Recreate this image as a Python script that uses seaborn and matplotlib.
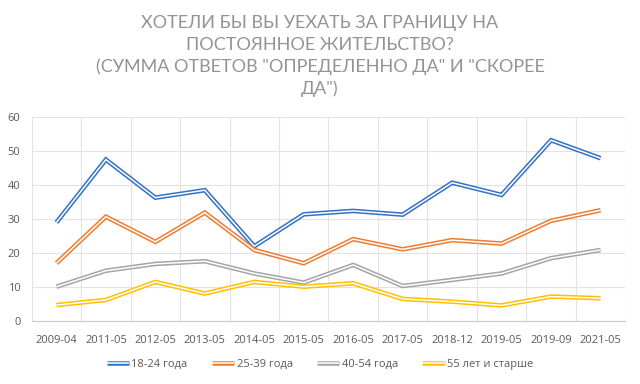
import pandas as pd
import matplotlib
matplotlib.use("Agg")
import matplotlib.pyplot as plt
import matplotlib.patheffects as pe
import seaborn as sns

# data
dates = ["2009-04", "2011-05", "2012-05", "2013-05", "2014-05", "2015-05",
         "2016-05", "2017-05", "2018-12", "2019-05", "2019-09", "2021-05"]
age_18_24 = [29, 47.5, 36.3, 38.5, 22, 31.4, 32.4, 31.3, 40.7, 37.1, 53.2, 47.9]
age_25_39 = [17, 30.7, 23.3, 31.9, 20.9, 17, 24.1, 21.1, 23.8, 22.8, 29.5, 32.6]
age_40_54 = [10.1, 14.8, 16.8, 17.6, 14, 11.3, 16.5, 10.3, 12.1, 14, 18.5, 20.9]
age_55_up = [4.7, 6.2, 11.5, 8.1, 11.5, 10.1, 11.1, 6.5, 5.7, 4.6, 7.2, 6.7]

groups = ["18-24 года", "25-39 года", "40-54 года", "55 лет и старше"]
colors = ["#3372C6", "#ED7D31", "#A5A5A5", "#FFC000"]

title = ('ХОТЕЛИ БЫ ВЫ УЕХАТЬ ЗА ГРАНИЦУ НА\nПОСТОЯННОЕ ЖИТЕЛЬСТВО?\n'
         '(СУММА ОТВЕТОВ "ОПРЕДЕЛЕННО ДА" И "СКОРЕЕ\nДА")')

rows = []
for g, vals in zip(groups, [age_18_24, age_25_39, age_40_54, age_55_up]):
    for d, v in zip(dates, vals):
        rows.append({"date": d, "group": g, "value": v})
df = pd.DataFrame(rows)

sns.set_style("white")
plt.rcParams["font.family"] = ["Open Sans", "DejaVu Sans"]

fig = plt.figure(figsize=(6.4, 3.84), dpi=100)
ax = fig.add_axes([0.0495, 0.164, 0.9275, 0.531])

sns.lineplot(data=df, x="date", y="value", hue="group", hue_order=groups,
             palette=colors, sort=False, linewidth=3.3, legend=False, ax=ax)

# excel-like double lines: coloured stroke with a white core
for line in ax.get_lines():
    line.set_path_effects([pe.Stroke(linewidth=3.3, foreground=line.get_color()),
                           pe.Stroke(linewidth=1.1, foreground="white")])
    line.set_solid_joinstyle("miter")
    line.set_solid_capstyle("butt")

ax.set_xlim(-0.5, len(dates) - 0.5)
ax.set_ylim(0, 60)
ax.set_yticks(range(0, 61, 10))
ax.set_xticks(range(len(dates)))
ax.set_xticklabels(dates)
ax.set_xticks([i - 0.5 for i in range(len(dates) + 1)], minor=True)
ax.grid(True, which="minor", axis="x", color="#e3e3e3", linewidth=0.8)
ax.grid(True, which="major", axis="y", color="#e3e3e3", linewidth=0.8)
ax.set_axisbelow(True)
ax.tick_params(axis="both", which="both", length=0, colors="#595959", labelsize=8)
ax.tick_params(axis="x", pad=10)
ax.tick_params(axis="y", pad=8)
ax.set_xlabel("")
ax.set_ylabel("")
for side in ["top", "right", "left"]:
    ax.spines[side].set_visible(False)
ax.spines["bottom"].set_color("#c8c8c8")
ax.spines["bottom"].set_linewidth(0.8)

handles = ax.get_lines()[:4]
fig.legend(handles, groups, loc="center", bbox_to_anchor=(0.5, 0.05), ncol=4,
           frameon=False, fontsize=8, labelcolor="#595959", handlelength=2.0,
           handletextpad=0.2, columnspacing=2.2)

fig.text(0.5, 0.853, title, ha="center", va="center", fontsize=13,
         family=["Lato", "DejaVu Sans"], fontweight="normal",
         color="#939393", linespacing=1.42)

fig.savefig("out.png", dpi=100)
